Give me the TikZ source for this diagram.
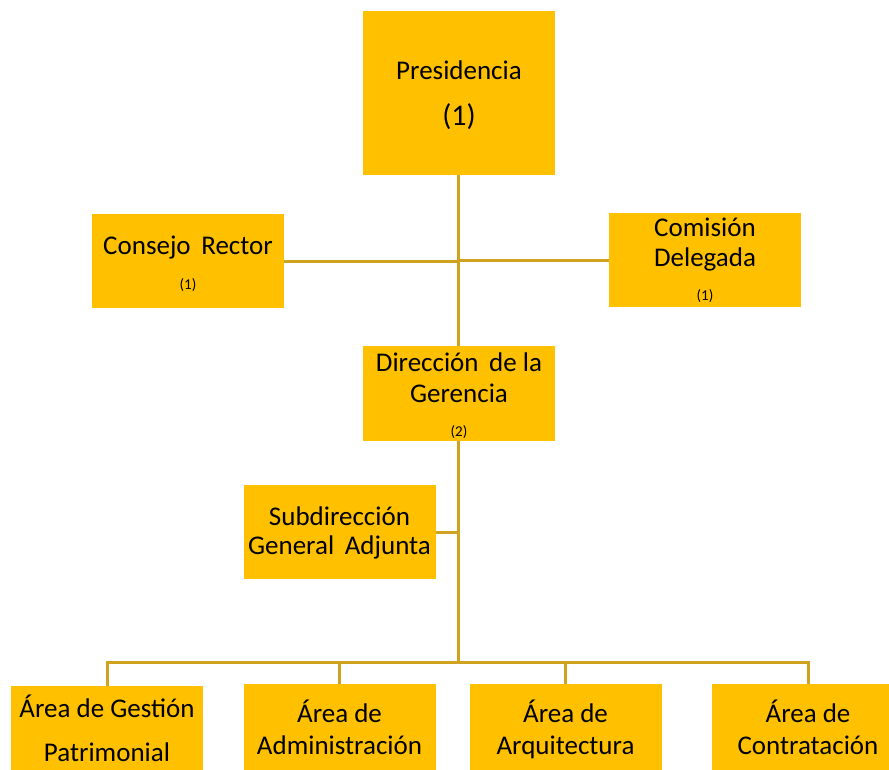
\documentclass[tikz,border=0pt]{standalone}
\usepackage{fontspec}
\setmainfont{Carlito}
\usetikzlibrary{positioning}
\definecolor{boxgold}{RGB}{255,192,0}
\definecolor{linegold}{RGB}{207,163,31}
\tikzset{
  unit/.style={rectangle, fill=boxgold, minimum width=192pt, minimum height=94pt, inner sep=0pt},
  big/.style={font=\fontsize{27}{30}\selectfont, inner sep=0pt, anchor=base},
  small/.style={font=\fontsize{15}{17}\selectfont, inner sep=0pt, anchor=base},
  link/.style={draw=linegold, line width=3pt}
}
\begin{document}
\begin{tikzpicture}[x=1pt,y=-1pt]
  \useasboundingbox (0,0) rectangle (889,769);
  \clip (0,0) rectangle (889,769);
  % boxes
  \node[unit, minimum height=164pt] (pres) at (459,93) {};
  \node[unit] (cons) at (187.5,261) {};
  \node[unit] (com) at (705,260) {};
  \node[unit, minimum height=95pt] (dir) at (459,393.5) {};
  \node[unit] (sub) at (339.5,532) {};
  \node[unit] (gest) at (107,733) {};
  \node[unit] (admin) at (339.5,731) {};
  \node[unit] (arq) at (565.5,731) {};
  \node[unit] (contra) at (808,731) {};
  % texts
  \node[big] (presT) at (459,79) {Presidencia};
  \node[big, font=\fontsize{30}{34}\selectfont] (presN) at (459,125) {(1)};
  \node[big] (consT) at (188,254) {Consejo\ \,Rector};
  \node[small] (consN) at (188,289) {(1)};
  \node[big] (comT1) at (705,236) {Comisión};
  \node[big] (comT2) at (705,266) {Delegada};
  \node[small] (comN) at (705,300) {(1)};
  \node[big] (dirT1) at (459,371.5) {Dirección\ \,de la};
  \node[big] (dirT2) at (459,402.5) {Gerencia};
  \node[small] (dirN) at (459,436.5) {(2)};
  \node[big] (subT1) at (339.5,525) {Subdirección};
  \node[big] (subT2) at (339.5,554) {General\ \,Adjunta};
  \node[big] (gestT1) at (107,717.5) {Área de Gestión};
  \node[big] (gestT2) at (107,761) {Patrimonial};
  \node[big] (adminT1) at (339.5,722.5) {Área de};
  \node[big] (adminT2) at (339.5,754) {Administración};
  \node[big] (arqT1) at (565.5,722.5) {Área de};
  \node[big] (arqT2) at (565.5,754) {Arquitectura};
  \node[big] (contraT1) at (808,722.5) {Área de};
  \node[big] (contraT2) at (808,754) {Contratación};
  % joints on the trunk
  \coordinate (jcons) at (458,261);
  \coordinate (jcom) at (458,260);
  \coordinate (jsub) at (458,532);
  \coordinate (bus) at (458,662);
  \begin{scope}[link]
    \draw (pres.south -| bus) -- (dir.north -| bus);
    \draw (cons.east) -- (jcons);
    \draw (com.west) -- (jcom);
    \draw (dir.south -| bus) -- (bus);
    \draw (sub.east) -- (jsub);
    \draw (bus) -| (gest.north);
    \draw (bus) -| (admin.north);
    \draw (bus) -| (arq.north);
    \draw (bus) -| (contra.north);
  \end{scope}
\end{tikzpicture}
\end{document}
